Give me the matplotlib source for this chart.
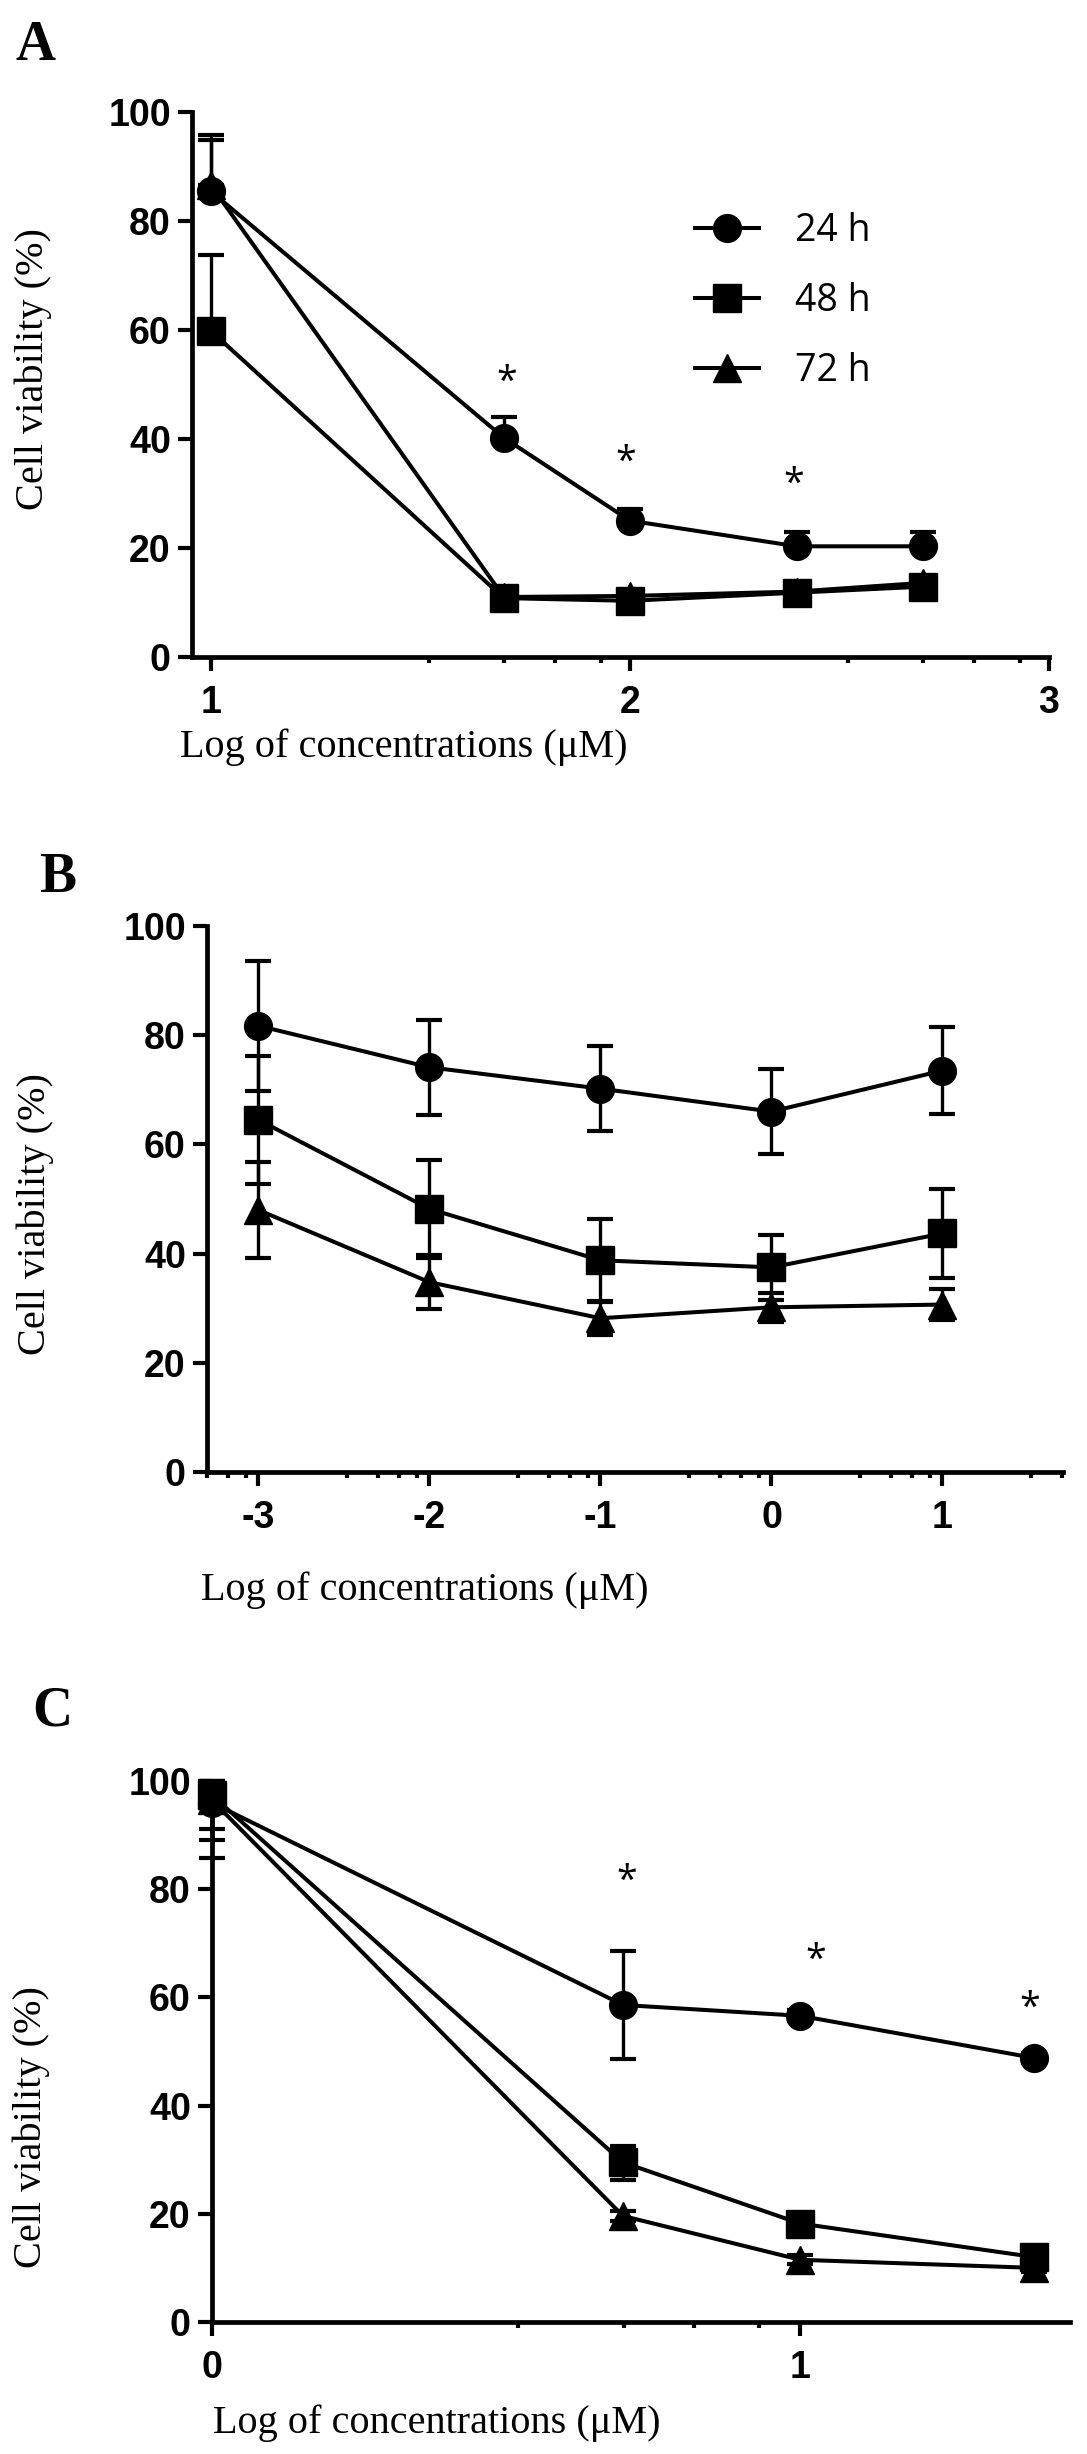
import matplotlib
matplotlib.use("Agg")
import matplotlib.pyplot as plt
import numpy as np

# ---- data ----
series = ["24 h", "48 h", "72 h"]
markers = ["o", "s", "^"]

# panel A
x_a = [1.0, 1.699, 2.0, 2.398, 2.699]
a_24 = [85.4, 40.2, 25.0, 20.3, 20.3]
a_48 = [59.8, 10.8, 10.3, 11.8, 12.9]
a_72 = [86.5, 11.0, 11.2, 12.0, 13.6]
a_24_err = [10.4, 3.8, 2.2, 2.6, 2.6]
a_48_err = [14.0, 1.0, 1.0, 1.0, 1.2]
a_72_err = [8.3, 0.8, 0.8, 0.8, 1.0]
a_star_x = [1.706, 1.99, 2.39]
a_star_y = [50.3, 35.6, 31.5]

# panel B
x_b = [-3, -2, -1, 0, 1]
b_24 = [81.7, 74.1, 70.2, 66.0, 73.5]
b_48 = [64.5, 48.2, 38.8, 37.5, 43.7]
b_72 = [48.0, 34.8, 28.2, 30.2, 30.7]
b_24_err = [11.9, 8.7, 7.8, 7.8, 8.0]
b_48_err = [11.7, 9.0, 7.5, 6.0, 8.2]
b_72_err = [8.8, 5.0, 3.0, 2.6, 2.8]

# panel C
x_c = [0.0, 0.699, 1.0, 1.398]
c_24 = [96.0, 58.6, 56.6, 48.8]
c_48 = [97.4, 29.5, 18.2, 12.0]
c_72 = [96.5, 19.6, 11.5, 10.0]
c_24_lo = [10.3, 10.0, 1.0, 1.0]
c_24_hi = [4.0, 10.0, 1.0, 1.0]
c_48_lo = [8.3, 3.2, 1.0, 1.0]
c_48_hi = [2.6, 3.0, 1.0, 1.0]
c_72_lo = [5.4, 1.0, 0.8, 0.8]
c_72_hi = [3.5, 1.0, 0.8, 0.8]
c_star_x = [0.706, 1.026, 1.39]
c_star_y = [81.3, 66.8, 57.9]

y_ticks = [0, 20, 40, 60, 80, 100]
minor_offsets = [0.52, 0.70, 0.82, 0.93]

W, H = 1087, 2454
fig = plt.figure(figsize=(W / 100, H / 100), dpi=100)

LW = 2.9
MS = 20


def add_ax(l, t, r, b):
    return fig.add_axes([l / W, 1 - b / H, (r - l) / W, (b - t) / H])


def ftext(x, y, s, **kw):
    fig.text(x / W, 1 - y / H, s, ha="center", va="center", **kw)


def style(ax, xlim, xticks):
    ax.set_xlim(*xlim)
    ax.set_ylim(0, 100)
    for s in ["top", "right"]:
        ax.spines[s].set_visible(False)
    for s in ["left", "bottom"]:
        ax.spines[s].set_linewidth(3.4)
    ax.set_xticks(xticks)
    ax.set_xticklabels([str(t) for t in xticks])
    mins = [d + o for d in range(int(np.floor(xlim[0])), int(np.ceil(xlim[1])) + 1)
            for o in minor_offsets if xlim[0] < d + o <= xlim[1] + 0.01]
    ax.set_xticks(mins, minor=True)
    ax.set_yticks(y_ticks)
    ax.tick_params(axis="both", which="major", length=10, width=3, labelsize=27)
    ax.tick_params(axis="x", which="major", pad=10)
    ax.tick_params(axis="y", which="major", pad=5)
    ax.tick_params(axis="x", which="minor", length=4.5, width=3)
    for lab in ax.get_xticklabels() + ax.get_yticklabels():
        lab.set_fontweight("bold")
        lab.set_family("Liberation Sans")


def draw(ax, x, ys, lo, hi):
    order = [2, 0, 1]
    for i in order:
        ax.errorbar(x, ys[i], yerr=[lo[i], hi[i]], fmt="none", ecolor="black",
                    elinewidth=2.4, capsize=9.4, capthick=3, clip_on=False, zorder=2 + i)
        ax.plot(x, ys[i], color="black", lw=LW, marker=markers[i], ms=MS,
                label=series[i], clip_on=False, zorder=3 + i)


# ---- panel A ----
axA = add_ax(191.7, 111.7, 1049, 657)
zeros = [0] * len(x_a)
draw(axA, x_a, [a_24, a_48, a_72], [zeros, zeros, zeros], [a_24_err, a_48_err, a_72_err])
style(axA, (0.954, 3.0), [1, 2, 3])
for sx, sy in zip(a_star_x, a_star_y):
    axA.text(sx, sy, "*", ha="center", va="center", fontsize=27, family="Open Sans")
h, l = axA.get_legend_handles_labels()
order_idx = [l.index(s) for s in series]
fig.legend([h[i] for i in order_idx], series, loc="upper left",
           bbox_to_anchor=(695 / W, 1 - 212 / H), frameon=False, borderpad=0,
           borderaxespad=0, handlelength=1.7, handletextpad=0.96, labelspacing=0.85,
           numpoints=1, prop={"family": "Open Sans", "size": 27})

# ---- panel B ----
axB = add_ax(206.7, 925.7, 1062.7, 1472.4)
draw(axB, x_b, [b_24, b_48, b_72], [b_24_err, b_48_err, b_72_err],
     [b_24_err, b_48_err, b_72_err])
style(axB, (-3.302, 1.703), [-3, -2, -1, 0, 1])

# ---- panel C ----
axC = add_ax(211.7, 1781, 1069.7, 2322)
draw(axC, x_c, [c_24, c_48, c_72], [c_24_lo, c_48_lo, c_72_lo], [c_24_hi, c_48_hi, c_72_hi])
style(axC, (0.0, 1.458), [0, 1])
for sx, sy in zip(c_star_x, c_star_y):
    axC.text(sx, sy, "*", ha="center", va="center", fontsize=27, family="Open Sans")

# ---- labels ----
serif = "Liberation Serif"
ftext(35, 46.5, "A", fontsize=40, fontweight="bold", family=serif)
ftext(57.5, 877.5, "B", fontsize=40, fontweight="bold", family=serif)
ftext(52, 1712, "C", fontsize=40, fontweight="bold", family=serif)

xlab = "Log of concentrations (\u03bcM)"
ylab = "Cell viability (%)"
ftext(404, 747, xlab, fontsize=29, family=serif)
ftext(425, 1590, xlab, fontsize=29, family=serif)
ftext(437, 2423, xlab, fontsize=29, family=serif)
ftext(33, 369, ylab, fontsize=29, family=serif, rotation=90)
ftext(35, 1214, ylab, fontsize=29, family=serif, rotation=90)
ftext(31, 2127, ylab, fontsize=29, family=serif, rotation=90)

fig.savefig("out.png", dpi=100)
